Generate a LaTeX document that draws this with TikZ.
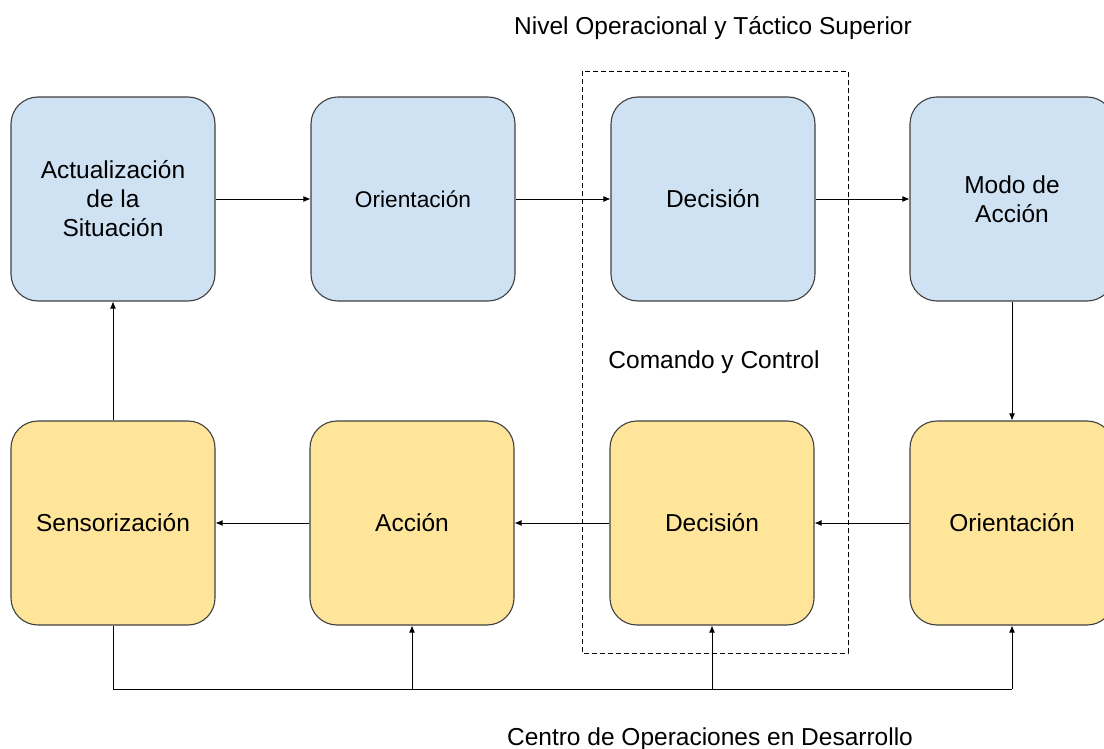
\documentclass[tikz,border=0pt]{standalone}
\usepackage{fontspec}
\setmainfont{Liberation Sans}
\usetikzlibrary{arrows.meta}
\definecolor{bluefill}{HTML}{CFE2F3}
\definecolor{yellowfill}{HTML}{FFE599}
\definecolor{edge}{HTML}{404040}
\tikzset{
  box/.style={draw=edge, line width=1.1pt, rounded corners=27pt,
    minimum width=204pt, minimum height=204pt, inner sep=0pt,
    align=center, font=\fontsize{24.5}{29}\selectfont},
  topbox/.style={box, fill=bluefill},
  botbox/.style={box, fill=yellowfill},
  arr/.style={line width=0.9pt, -{Latex[length=7pt,width=6pt]}},
  wire/.style={line width=0.9pt},
  caption/.style={font=\fontsize{24.5}{29}\selectfont, inner sep=0pt}
}
\begin{document}
\begin{tikzpicture}[x=1pt, y=-1pt]
\useasboundingbox[fill=white] (0,0) rectangle (1104,749);

% dashed frame around the decision column
\draw[dashed, dash pattern=on 5pt off 3pt, line width=0.9pt] (582,71) rectangle (848,653);

% upper row
\node[topbox] (act) at (113,199) {Actualización\\de la\\Situación};
\node[topbox, font=\fontsize{22.7}{27}\selectfont] (ori1) at (413,199) {Orientación};
\node[topbox] (dec1) at (713,199) {Decisión};
\node[topbox] (modo) at (1012,199) {Modo de\\Acción};

% lower row
\node[botbox] (sen) at (113,523) {Sensorización};
\node[botbox] (acc) at (412,523) {Acción};
\node[botbox] (dec2) at (712,523) {Decisión};
\node[botbox] (ori2) at (1012,523) {Orientación};

% captions
\node[caption] (tNivel) at (713,28) {Nivel Operacional y Táctico Superior};
\node[caption] (tComando) at (714,362) {Comando y Control};
\node[caption] (tCentro) at (710,739) {Centro de Operaciones en Desarrollo};

% upper flow
\draw[arr] (act) -- (ori1);
\draw[arr] (ori1) -- (dec1);
\draw[arr] (dec1) -- (modo);
\draw[arr] (modo) -- (ori2);

% lower flow
\draw[arr] (ori2) -- (dec2);
\draw[arr] (dec2) -- (acc);
\draw[arr] (acc) -- (sen);
\draw[arr] (sen) -- (act);

% feedback bus
\coordinate (busA) at (acc.south |- 0,689);
\coordinate (busD) at (dec2.south |- 0,689);
\coordinate (busO) at (ori2.south |- 0,689);
\draw[wire] (sen.south) |- (busO);
\draw[arr] (busA) -- (acc.south);
\draw[arr] (busD) -- (dec2.south);
\draw[arr] (busO) -- (ori2.south);
\end{tikzpicture}
\end{document}
